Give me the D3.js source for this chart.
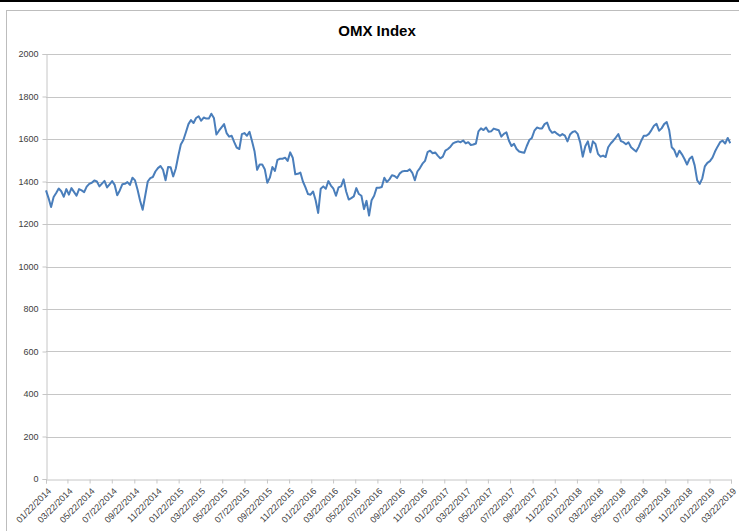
<!DOCTYPE html>
<html><head><meta charset="utf-8">
<script src="https://cdn.jsdelivr.net/npm/d3@7"></script>
<style>html,body{margin:0;padding:0;background:#fff;}svg{display:block;}</style>
</head><body>
<svg id="chart" width="739" height="531"></svg>
<script>
const title = "OMX Index";
const startDate = "01/22/2014";
const endDate = "03/22/2019";
// weekly closes, starting 01/22/2014
const values = [
1358,1322,1280,1327,1346,1367,1354,1328,1364,1338,
1369,1351,1333,1364,1358,1350,1376,1389,1394,1405,
1400,1377,1390,1403,1372,1387,1402,1384,1335,1358,
1387,1389,1397,1384,1418,1405,1361,1309,1267,1333,
1400,1416,1421,1447,1463,1473,1455,1406,1468,1467,
1424,1460,1520,1574,1595,1632,1670,1689,1675,1699,
1707,1686,1701,1696,1696,1719,1699,1621,1639,1655,
1670,1628,1611,1615,1585,1559,1553,1623,1628,1615,
1634,1589,1541,1455,1480,1480,1458,1394,1418,1468,
1450,1502,1507,1507,1512,1497,1537,1512,1434,1436,
1442,1400,1372,1341,1338,1353,1312,1252,1366,1377,
1366,1402,1381,1366,1333,1372,1377,1410,1353,1315,
1322,1330,1369,1341,1333,1270,1309,1240,1312,1333,
1371,1371,1374,1418,1398,1410,1429,1426,1416,1437,
1447,1450,1449,1457,1441,1406,1447,1463,1484,1497,
1538,1545,1533,1537,1522,1509,1517,1545,1553,1564,
1579,1585,1589,1585,1593,1579,1585,1572,1574,1579,
1636,1650,1642,1654,1634,1636,1649,1645,1641,1611,
1624,1631,1592,1567,1577,1553,1541,1538,1535,1567,
1595,1605,1639,1654,1650,1650,1670,1677,1644,1629,
1634,1624,1615,1623,1616,1589,1621,1633,1637,1624,
1584,1517,1566,1589,1537,1589,1577,1530,1517,1522,
1515,1561,1579,1592,1607,1623,1590,1585,1575,1584,
1561,1551,1541,1563,1592,1615,1615,1624,1642,1662,
1671,1639,1650,1670,1680,1641,1561,1548,1517,1545,
1528,1506,1480,1507,1517,1476,1405,1389,1415,1471,
1488,1496,1512,1541,1564,1585,1592,1579,1605,1580
];
const xTickLabels = [
"01/22/2014","03/22/2014","05/22/2014","07/22/2014","09/22/2014","11/22/2014",
"01/22/2015","03/22/2015","05/22/2015","07/22/2015","09/22/2015","11/22/2015",
"01/22/2016","03/22/2016","05/22/2016","07/22/2016","09/22/2016","11/22/2016",
"01/22/2017","03/22/2017","05/22/2017","07/22/2017","09/22/2017","11/22/2017",
"01/22/2018","03/22/2018","05/22/2018","07/22/2018","09/22/2018","11/22/2018",
"01/22/2019","03/22/2019"
];
const yTicks = [0,200,400,600,800,1000,1200,1400,1600,1800,2000];

const parse = d3.timeParse("%m/%d/%Y");
const fmt = d3.timeFormat("%m/%d/%Y");
const t0 = parse(startDate), t1 = parse(endDate);
const data = values.map((v,i)=>({date:d3.timeDay.offset(t0, 7*i), value:v}));

const svg = d3.select("#chart");
const W = 739, H = 531;
const m = {left:46, right:8, top:54, bottom:52};

// top black rule and chart frame
svg.append("rect").attr("x",0).attr("y",0).attr("width",W).attr("height",2).attr("fill","#000");
svg.append("rect").attr("x",6.5).attr("y",10.5).attr("width",W).attr("height",H)
  .attr("fill","none").attr("stroke","#bdbdbd").attr("stroke-width",1);

const x = d3.scaleTime().domain([t0,t1]).range([m.left, W - m.right]);
const y = d3.scaleLinear().domain([0,2000]).range([H - m.bottom, m.top]);

// gridlines
svg.append("g").selectAll("line").data(yTicks.filter(d=>d>0)).join("line")
  .attr("x1",m.left).attr("x2",W-m.right)
  .attr("y1",d=>Math.round(y(d))+0.5).attr("y2",d=>Math.round(y(d))+0.5)
  .attr("stroke","#c6c6c6").attr("stroke-width",1);

// y axis
const yAxis = svg.append("g").attr("transform",`translate(${m.left+0.5},0)`)
  .call(d3.axisLeft(y).tickValues(yTicks).tickSize(4).tickPadding(4).tickFormat(d3.format("d")));
yAxis.select(".domain").attr("stroke","#c6c6c6");
yAxis.selectAll(".tick line").attr("stroke","#c6c6c6");
yAxis.selectAll("text").attr("font-family","'Liberation Sans Narrow','Liberation Sans',Arial,sans-serif")
  .attr("font-size","9px").attr("fill","#404040");

// x axis
const xTickDates = xTickLabels.map(parse);
const xAxis = svg.append("g").attr("transform",`translate(0,${Math.round(y(0))+0.5})`)
  .call(d3.axisBottom(x).tickValues(xTickDates).tickSize(4).tickFormat(fmt));
xAxis.select(".domain").attr("stroke","#c6c6c6");
xAxis.selectAll(".tick line").attr("stroke","#c6c6c6");
xAxis.selectAll("text")
  .attr("font-family","'Liberation Sans Narrow','Liberation Sans',Arial,sans-serif")
  .attr("font-size","9px").attr("fill","#404040")
  .attr("text-anchor","end").attr("dy","0.35em")
  .attr("transform","translate(3,10) rotate(-45)").attr("y",0).attr("x",0);

// line
const line = d3.line().x(d=>x(d.date)).y(d=>y(d.value));
svg.append("path").datum(data).attr("d",line)
  .attr("fill","none").attr("stroke","#4a7ebb").attr("stroke-width",2).attr("stroke-linejoin","round");

// title
svg.append("text").attr("x",377).attr("y",36).attr("text-anchor","middle")
  .attr("font-family","'Liberation Sans Narrow','Liberation Sans',Arial,sans-serif")
  .attr("font-weight","bold").attr("font-size","15px").attr("fill","#000").text(title);
</script>
</body></html>
